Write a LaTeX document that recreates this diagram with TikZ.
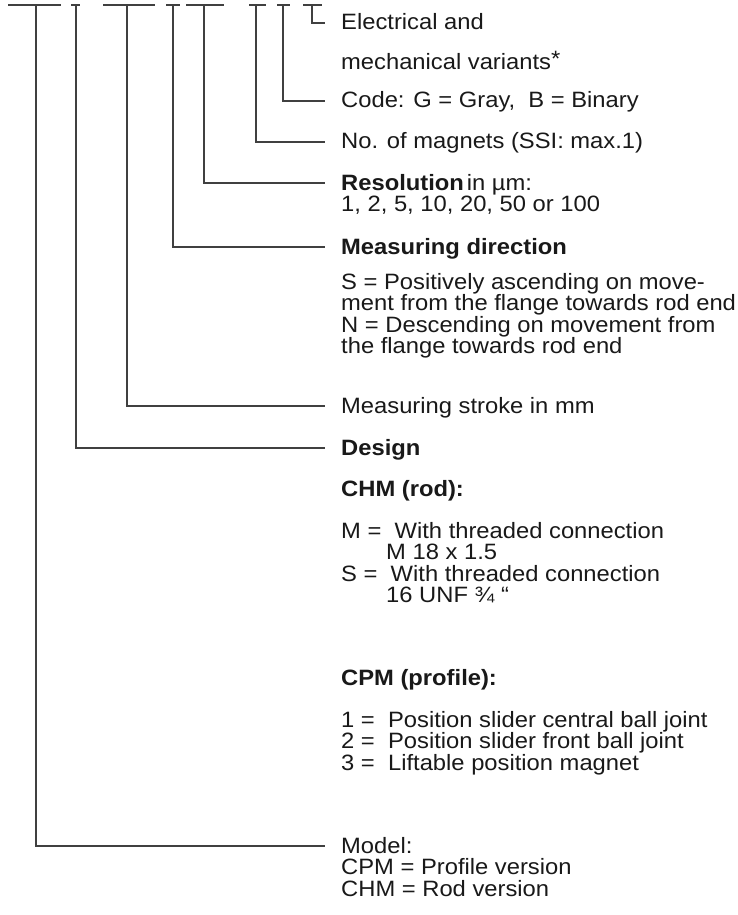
\documentclass[tikz,border=0pt]{standalone}
\usepackage{fontspec}
\setmainfont{Liberation Sans}[FakeStretch=1.07]
\usetikzlibrary{calc}
\newcommand\labfont{\fontsize{22.2}{21.5}\selectfont}
\begin{document}
\begin{tikzpicture}[x=1pt,y=-1pt,
  conn/.style={line width=1.1pt, draw=black!75},
  lab/.style={anchor=base west, inner sep=0pt, font=\labfont, text=black!90}]
\fill[white] (0,0) rectangle (737,915);
\useasboundingbox (0,0) rectangle (737,915);

% ---- texts ----
\node[lab] (el1) at (341,30) {Electrical and};
\node[lab] (el2) at (341,70) {mechanical variants\raisebox{3pt}{*}};
\node[lab] (code) at (341,108) {Code: G = Gray, \ B = Binary};
\node[lab] (mag) at (341,149) {No. of magnets (SSI: max.1)};
\node[lab] (res1) at (341,190) {\textbf{Resolution}\hspace{3pt}in µm:};
\node[lab] (res2) at (341,211.5) {1, 2, 5, 10, 20, 50 or 100};
\node[lab] (mdir) at (341,254) {\textbf{Measuring direction}};
\node[lab] (md1) at (341,289) {S = Positively ascending on move-};
\node[lab] (md2) at (341,310.5) {ment from the flange towards rod end};
\node[lab] (md3) at (341,332) {N = Descending on movement from};
\node[lab] (md4) at (341,353.5) {the flange towards rod end};
\node[lab] (stroke) at (341,413) {Measuring stroke in mm};
\node[lab] (design) at (341,455) {\textbf{Design}};
\node[lab] (chm) at (341,496) {\textbf{CHM (rod):}};
\node[lab] (m1) at (341,538) {M = \ With threaded connection};
\node[lab] (m2) at (386,559.5) {M 18 x 1.5};
\node[lab] (s1) at (341,581) {S = \ With threaded connection};
\node[lab] (s2) at (386,602.5) {16 UNF ¾ “};
\node[lab] (cpm) at (341,685) {\textbf{CPM (profile):}};
\node[lab] (p1) at (341,727) {1 = \ Position slider central ball joint};
\node[lab] (p2) at (341,748.5) {2 = \ Position slider front ball joint};
\node[lab] (p3) at (341,770) {3 = \ Liftable position magnet};
\node[lab] (model) at (341,853) {Model:};
\node[lab] (cpmv) at (341,874.5) {CPM = Profile version};
\node[lab] (chmv) at (341,896) {CHM = Rod version};

% ---- bars at the top ----
\coordinate (b1l) at (8,5);   \coordinate (b1r) at (61,5);  \coordinate (b1) at (36,5);
\coordinate (b2l) at (71,5);  \coordinate (b2r) at (80,5);  \coordinate (b2) at (76,5);
\coordinate (b3l) at (103,5); \coordinate (b3r) at (155,5); \coordinate (b3) at (127,5);
\coordinate (b4l) at (166,5); \coordinate (b4r) at (180,5); \coordinate (b4) at (173,5);
\coordinate (b5l) at (186,5); \coordinate (b5r) at (224,5); \coordinate (b5) at (204,5);
\coordinate (b6l) at (249,5); \coordinate (b6r) at (266,5); \coordinate (b6) at (256,5);
\coordinate (b7l) at (277,5); \coordinate (b7r) at (290,5); \coordinate (b7) at (283,5);
\coordinate (b8l) at (303,5); \coordinate (b8r) at (322,5); \coordinate (b8) at (312,5);

\foreach \i in {1,...,8} \draw[conn] (b\i l) -- (b\i r);

% ---- connectors ----
\draw[conn] (b1) |- ($(model.base west)+(-16,-7)$);
\draw[conn] (b2) |- ($(design.base west)+(-16,-7)$);
\draw[conn] (b3) |- ($(stroke.base west)+(-16,-7)$);
\draw[conn] (b4) |- ($(mdir.base west)+(-16,-7)$);
\draw[conn] (b5) |- ($(res1.base west)+(-16,-7)$);
\draw[conn] (b6) |- ($(mag.base west)+(-16,-7)$);
\draw[conn] (b7) |- ($(code.base west)+(-16,-7)$);
\draw[conn] (b8) |- ($(el1.base west)+(-16,-7)$);
\end{tikzpicture}
\end{document}
